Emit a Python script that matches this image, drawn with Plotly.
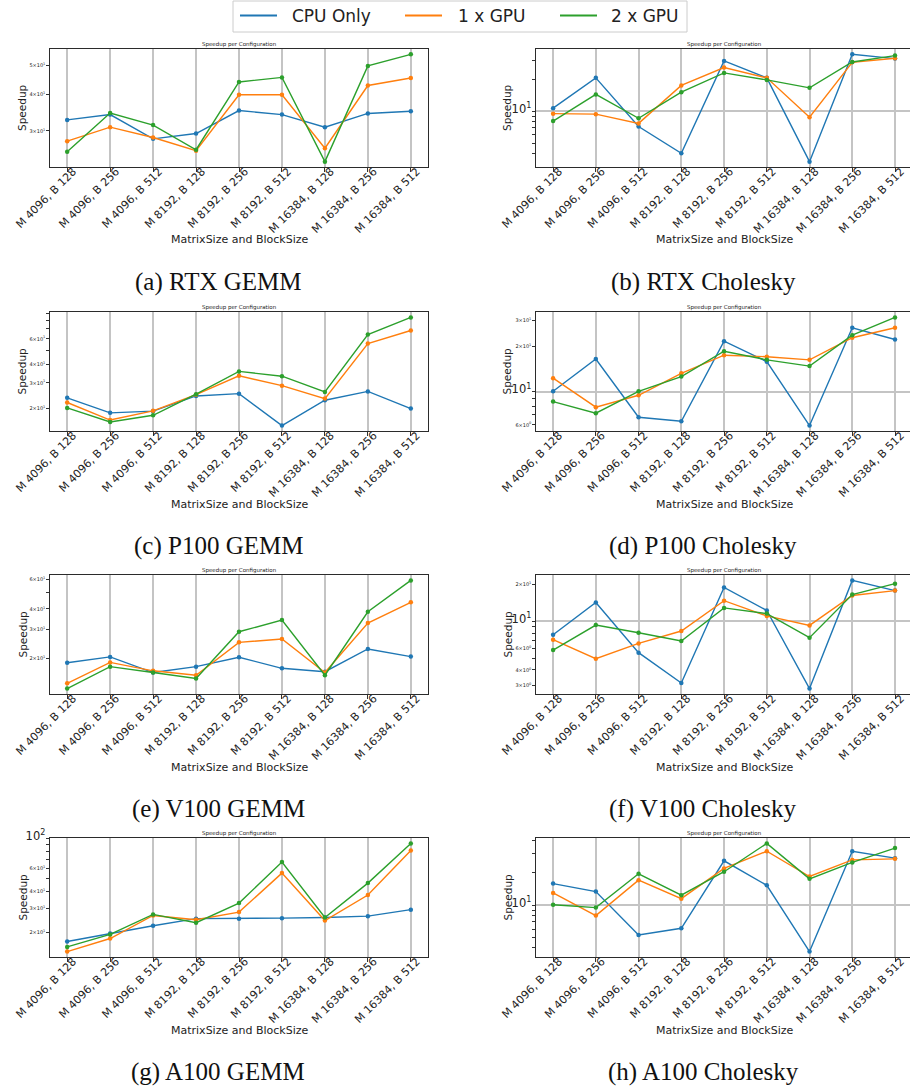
import numpy as np
import plotly.graph_objects as go

configs = ["M 4096, B 128", "M 4096, B 256", "M 4096, B 512",
           "M 8192, B 128", "M 8192, B 256", "M 8192, B 512",
           "M 16384, B 128", "M 16384, B 256", "M 16384, B 512"]
series_names = ["CPU Only", "1 x GPU", "2 x GPU"]
colors = ["#1f77b4", "#ff7f0e", "#2ca02c"]

# (a) RTX GEMM
rtx_gemm_cpu = [32.7, 34.1, 28.2, 29.4, 35.2, 34.1, 30.9, 34.4, 35.0]
rtx_gemm_1gpu = [27.7, 30.9, 28.5, 25.7, 39.8, 39.8, 26.2, 42.8, 45.4]
rtx_gemm_2gpu = [25.5, 34.5, 31.4, 25.9, 44.0, 45.6, 23.6, 49.9, 54.6]
# (b) RTX Cholesky
rtx_chol_cpu = [10.7, 20.6, 7.2, 4.04, 29.7, 20.6, 3.37, 34.2, 31.2]
rtx_chol_1gpu = [9.5, 9.4, 7.7, 17.5, 25.7, 20.6, 8.8, 28.8, 31.4]
rtx_chol_2gpu = [8.1, 14.4, 8.6, 15.1, 22.9, 19.7, 16.6, 29.0, 33.3]
# (c) P100 GEMM
p100_gemm_cpu = [23.7, 18.7, 19.2, 24.4, 25.3, 15.3, 22.8, 26.2, 20.0]
p100_gemm_1gpu = [22.0, 16.7, 19.3, 24.9, 33.5, 28.7, 23.4, 55.7, 68.4]
p100_gemm_2gpu = [20.2, 16.2, 18.0, 25.1, 35.9, 33.3, 26.0, 64.2, 84.0]
# (d) P100 Cholesky
p100_chol_cpu = [10.05, 16.5, 6.74, 6.34, 21.7, 15.85, 5.93, 26.7, 22.3]
p100_chol_1gpu = [12.3, 7.87, 9.45, 13.25, 17.5, 17.1, 16.3, 22.9, 26.7]
p100_chol_2gpu = [8.58, 7.17, 10.05, 12.6, 18.6, 16.3, 14.8, 23.8, 31.3]
# (e) V100 GEMM
v100_gemm_cpu = [18.9, 20.5, 16.5, 17.9, 20.4, 17.5, 16.7, 22.9, 20.6]
v100_gemm_1gpu = [14.2, 19.0, 16.9, 15.9, 25.1, 26.3, 16.5, 32.8, 43.8]
v100_gemm_2gpu = [13.2, 17.9, 16.5, 15.2, 29.1, 34.2, 15.9, 38.4, 59.4]
# (f) V100 Cholesky
v100_chol_cpu = [7.78, 14.3, 5.54, 3.12, 19.0, 12.3, 2.81, 21.7, 17.9]
v100_chol_1gpu = [7.08, 4.94, 6.6, 8.34, 14.8, 11.1, 9.27, 16.3, 17.9]
v100_chol_2gpu = [5.82, 9.33, 8.07, 6.9, 12.9, 11.6, 7.35, 16.6, 20.4]
# (g) A100 GEMM
a100_gemm_cpu = [17.0, 19.5, 22.3, 25.2, 25.2, 25.4, 25.7, 26.3, 29.4]
a100_gemm_1gpu = [14.3, 17.9, 26.6, 24.7, 28.2, 55.1, 24.4, 37.8, 81.4]
a100_gemm_2gpu = [15.5, 19.2, 27.1, 23.5, 32.9, 66.6, 25.7, 46.4, 91.8]
# (h) A100 Cholesky
a100_chol_cpu = [15.9, 13.4, 5.29, 6.1, 25.9, 15.3, 3.70, 31.8, 27.4]
a100_chol_1gpu = [13.0, 8.0, 17.1, 11.5, 22.0, 31.8, 18.5, 26.4, 27.0]
a100_chol_2gpu = [10.1, 9.5, 19.6, 12.4, 20.5, 37.6, 17.6, 25.0, 34.0]

captions = ["(a) RTX GEMM", "(b) RTX Cholesky", "(c) P100 GEMM", "(d) P100 Cholesky",
            "(e) V100 GEMM", "(f) V100 Cholesky", "(g) A100 GEMM", "(h) A100 Cholesky"]
panel_data = [
    (rtx_gemm_cpu, rtx_gemm_1gpu, rtx_gemm_2gpu),
    (rtx_chol_cpu, rtx_chol_1gpu, rtx_chol_2gpu),
    (p100_gemm_cpu, p100_gemm_1gpu, p100_gemm_2gpu),
    (p100_chol_cpu, p100_chol_1gpu, p100_chol_2gpu),
    (v100_gemm_cpu, v100_gemm_1gpu, v100_gemm_2gpu),
    (v100_chol_cpu, v100_chol_1gpu, v100_chol_2gpu),
    (a100_gemm_cpu, a100_gemm_1gpu, a100_gemm_2gpu),
    (a100_chol_cpu, a100_chol_1gpu, a100_chol_2gpu),
]
# labelled minor y ticks per panel: (mantissa, exponent)
minor_labels = [
    [(3, 1), (4, 1), (5, 1)],
    [],
    [(2, 1), (3, 1), (4, 1), (6, 1)],
    [(6, 0), (2, 1), (3, 1)],
    [(2, 1), (3, 1), (4, 1), (6, 1)],
    [(3, 0), (4, 0), (6, 0), (2, 1)],
    [(2, 1), (3, 1), (4, 1), (6, 1)],
    [],
]

W, H = 910, 1087
col_x = [(50, 428), (536, 910)]
row_y = [(49, 167), (312, 431), (575, 694), (838, 957)]
caption_cx = [218, 703]


def px(x):
    return x / W


def py(y):
    return 1 - y / H


fig = go.Figure()
annotations = []
shapes = []
font_main = "DejaVu Sans"


def note(text, x, y, size, family=font_main, color="#222", angle=0, xanchor="center"):
    annotations.append(dict(text=text, x=px(x), y=py(y), xref="paper", yref="paper",
                            xanchor=xanchor, yanchor="middle", showarrow=False,
                            textangle=angle,
                            font=dict(size=size, family=family, color=color)))


for i in range(8):
    r, c = divmod(i, 2)
    ax = "" if i == 0 else str(i + 1)
    xa, ya = "x" + ax, "y" + ax
    x0, x1 = col_x[c]
    t, b = row_y[r]
    vals = panel_data[i]
    for s in range(3):
        fig.add_trace(go.Scatter(
            x=configs, y=vals[s], mode="lines+markers",
            line=dict(color=colors[s], width=1.4),
            marker=dict(color=colors[s], size=4.5),
            showlegend=False, xaxis=xa, yaxis=ya))
    allv = np.log10(np.concatenate([np.array(v, float) for v in vals]))
    lo, hi = allv.min(), allv.max()
    pad = 0.05 * (hi - lo)
    lo, hi = lo - pad, hi + pad
    tv, tt = [], []
    labelled = set(minor_labels[i])
    majors = []
    for e in range(-1, 4):
        for m in range(1, 10):
            v = m * 10.0 ** e
            if lo <= np.log10(v) <= hi:
                tv.append(v)
                if m == 1:
                    majors.append(v)
                    tt.append('<span style="font-size:11.5px">10<sup>%d</sup></span>' % e)
                elif (m, e) in labelled:
                    tt.append("%d×10<sup>%d</sup>" % (m, e))
                else:
                    tt.append("")
    right_end = 8.4 if c == 0 else 8 + (910 - (x0 + 17 + 8 * 42.75)) / 42.75
    fig.layout["xaxis" + ax] = dict(
        domain=[px(x0), px(x1)], anchor=ya, type="category", categoryorder="array",
        categoryarray=configs, range=[-0.4, right_end], automargin=False,
        tickangle=-45, tickfont=dict(size=11, color="#222", family=font_main),
        ticklabelstandoff=-11, ticklabelshift=6,
        ticks="outside", ticklen=3.5, tickcolor="#333",
        showgrid=True, gridcolor="#c4c4c4", gridwidth=1.6,
        showline=True, mirror=True, linecolor="#2b2b2b", linewidth=1.3,
        zeroline=False)
    fig.layout["yaxis" + ax] = dict(
        domain=[py(b), py(t)], anchor=xa, type="log", range=[lo, hi], automargin=False,
        tickmode="array", tickvals=tv, ticktext=tt,
        tickfont=dict(size=5, color="#222", family=font_main),
        ticks="outside", ticklen=2.5, tickcolor="#333",
        showgrid=False,
        minor=dict(tickmode="array", tickvals=majors, showgrid=True,
                   gridcolor="#c4c4c4", gridwidth=1.6, ticks=""),
        showline=True, mirror=True, linecolor="#2b2b2b", linewidth=1.3,
        zeroline=False)
    cx = (x0 + x1) / 2 if c == 0 else (x0 + 912) / 2
    note("Speedup per Configuration", cx, t - 5, 5.5)
    note("Speedup", 22 if c == 0 else 507, (t + b) / 2, 10.5, angle=-90)
    note("MatrixSize and BlockSize", cx, b + 73, 11)
    note(captions[i], caption_cx[c], b + 115, 25, family="Liberation Serif", color="#111")

# legend box (drawn like matplotlib's figure legend)
shapes.append(dict(type="rect", xref="paper", yref="paper",
                   x0=px(233), x1=px(687), y0=py(32), y1=py(1),
                   line=dict(color="#cccccc", width=1), fillcolor="white", layer="above"))
legend_line_x = [240, 405, 560]
legend_text_x = [290, 456, 609]
for s in range(3):
    shapes.append(dict(type="line", xref="paper", yref="paper",
                       x0=px(legend_line_x[s]), x1=px(legend_line_x[s] + 37),
                       y0=py(15.5), y1=py(15.5),
                       line=dict(color=colors[s], width=2), layer="above"))
    note(series_names[s], legend_text_x[s], 15.5, 17, xanchor="left")

fig.update_layout(
    width=W, height=H, margin=dict(l=0, r=0, t=0, b=0, autoexpand=False),
    paper_bgcolor="white", plot_bgcolor="white",
    annotations=annotations, shapes=shapes, showlegend=False,
)
fig.write_html("out.html", config={"displayModeBar": False},
               post_script="document.body.style.margin='0px';document.body.style.overflow='hidden';")
